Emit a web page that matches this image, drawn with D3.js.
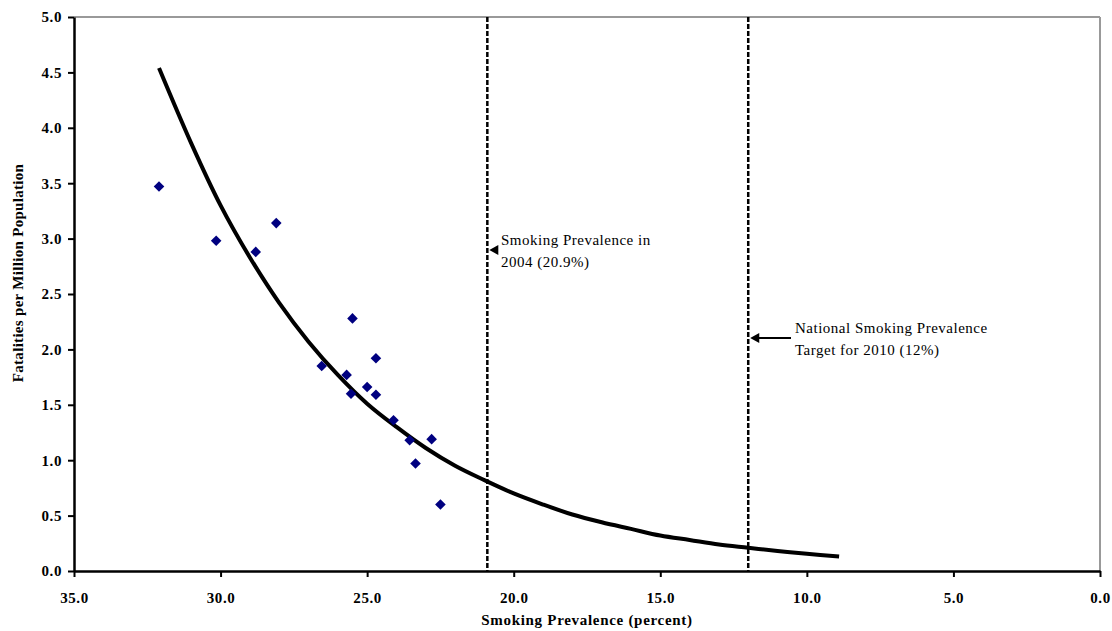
<!DOCTYPE html>
<html><head><meta charset="utf-8">
<script src="https://cdn.jsdelivr.net/npm/d3@7"></script>
<style>body{margin:0;background:#fff}svg{display:block}</style>
</head><body>
<script>
// Observed data (smoking prevalence %, fatalities per million)
const prevalence = [32.1, 30.15, 28.8, 28.1, 26.55, 25.5, 25.7, 25.55, 25.0, 24.7, 24.7, 24.1, 23.55, 22.8, 23.35, 22.5];
const fatalities = [3.47, 2.98, 2.88, 3.14, 1.85, 2.28, 1.77, 1.6, 1.66, 1.92, 1.59, 1.36, 1.18, 1.19, 0.97, 0.6];
// Trend curve
const trendX = [32.1, 31, 30, 29, 28, 27, 26, 25, 24, 23, 22, 21, 20, 19, 18, 17, 16, 15, 14, 13, 12, 11, 10, 8.9];
const trendY = [4.54, 3.86, 3.3, 2.83, 2.42, 2.07, 1.77, 1.51, 1.3, 1.11, 0.95, 0.82, 0.7, 0.6, 0.51, 0.44, 0.38, 0.32, 0.28, 0.24, 0.21, 0.18, 0.155, 0.13];
const xTicks = [35, 30, 25, 20, 15, 10, 5, 0];
const yTicks = [0, 0.5, 1, 1.5, 2, 2.5, 3, 3.5, 4, 4.5, 5];
const refLines = [20.9, 12];
const refLabels = [["Smoking Prevalence in", "2004 (20.9%)"], ["National Smoking Prevalence", "Target for 2010 (12%)"]];

const W = 1112, H = 631;
const m = {l: 74, r: 12, t: 17, b: 60};
const svg = d3.select("body").append("svg").attr("width", W).attr("height", H);
const x = d3.scaleLinear().domain([35, 0]).range([m.l, W - m.r]);
const y = d3.scaleLinear().domain([0, 5]).range([H - m.b, m.t]);
const serif = "'Liberation Serif', 'Times New Roman', serif";

// frame top/right (gray)
svg.append("line").attr("x1", m.l).attr("x2", W - m.r).attr("y1", m.t).attr("y2", m.t).attr("stroke", "#999").attr("stroke-width", 2);
svg.append("line").attr("x1", W - m.r).attr("x2", W - m.r).attr("y1", m.t).attr("y2", H - m.b).attr("stroke", "#999").attr("stroke-width", 2);

// reference lines
svg.selectAll(".ref").data(refLines).enter().append("line")
  .attr("x1", d => x(d)).attr("x2", d => x(d)).attr("y1", m.t).attr("y2", H - m.b)
  .attr("stroke", "#000").attr("stroke-width", 2.5).attr("stroke-dasharray", "5,2");

// axes
const xAxis = svg.append("g").attr("transform", `translate(0,${H - m.b})`)
  .call(d3.axisBottom(x).tickValues(xTicks).tickFormat(d3.format(".1f")).tickSize(6).tickSizeOuter(0));
const yAxis = svg.append("g").attr("transform", `translate(${m.l},0)`)
  .call(d3.axisLeft(y).tickValues(yTicks).tickFormat(d3.format(".1f")).tickSize(6).tickSizeOuter(0));
[xAxis, yAxis].forEach(g => {
  g.select(".domain").attr("stroke", "#000").attr("stroke-width", 2.5);
  g.selectAll(".tick line").attr("stroke", "#000").attr("stroke-width", 2);
  g.selectAll("text").attr("font-family", serif).attr("font-weight", "bold").attr("font-size", 15)
    .attr("letter-spacing", "0.6px").attr("fill", "#000");
});
xAxis.selectAll("text").attr("dy", "1.5em");
yAxis.selectAll("text").attr("dx", "-0.2em");

// axis titles
svg.append("text").attr("x", 587).attr("y", 625).attr("text-anchor", "middle")
  .attr("font-family", serif).attr("font-weight", "bold").attr("font-size", 15).attr("letter-spacing", "0.7px")
  .text("Smoking Prevalence (percent)");
svg.append("text").attr("transform", `translate(23,273) rotate(-90)`).attr("text-anchor", "middle")
  .attr("font-family", serif).attr("font-weight", "bold").attr("font-size", 15).attr("letter-spacing", "0.3px")
  .text("Fatalities per Million Population");

// trend curve
const trend = trendX.map((d, i) => [d, trendY[i]]);
svg.append("path").datum(trend)
  .attr("d", d3.line().x(d => x(d[0])).y(d => y(d[1])).curve(d3.curveCatmullRom))
  .attr("fill", "none").attr("stroke", "#000").attr("stroke-width", 4);

// points
const pts = prevalence.map((d, i) => [d, fatalities[i]]);
svg.selectAll(".pt").data(pts).enter().append("path")
  .attr("transform", d => `translate(${x(d[0])},${y(d[1])}) rotate(45)`)
  .attr("d", d3.symbol().type(d3.symbolSquare).size(56))
  .attr("fill", "#000080");

// annotations
const annY = [250, 338];
const annTextX = [501, 795];
refLines.forEach((v, i) => {
  const tip = x(v) + 2;
  svg.append("line").attr("x1", annTextX[i] - 4).attr("x2", tip + 6).attr("y1", annY[i]).attr("y2", annY[i])
    .attr("stroke", "#000").attr("stroke-width", 2.2);
  svg.append("path").attr("d", `M${tip},${annY[i]} L${tip + 9},${annY[i] - 5} L${tip + 9},${annY[i] + 5} Z`).attr("fill", "#000");
  refLabels[i].forEach((t, j) => {
    svg.append("text").attr("x", annTextX[i]).attr("y", annY[i] - 5 + j * 22)
      .attr("font-family", serif).attr("font-size", 15).attr("letter-spacing", "0.5px").attr("fill", "#000").text(t);
  });
});
</script>
</body></html>
